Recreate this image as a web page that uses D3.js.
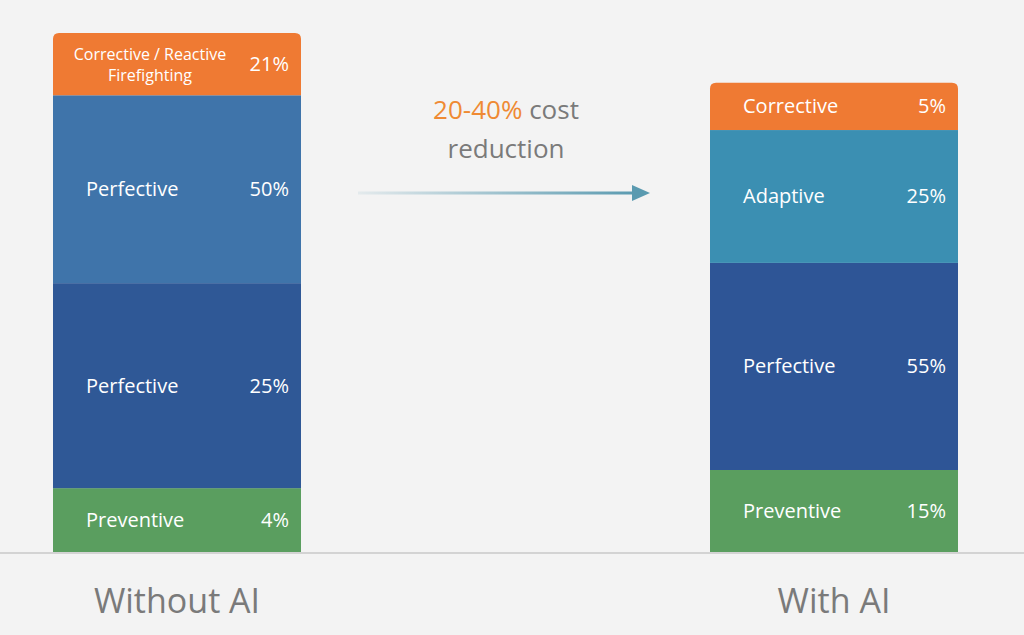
<!DOCTYPE html>
<html><head><meta charset="utf-8">
<script src="https://cdn.jsdelivr.net/npm/d3@7"></script>
<style>body{margin:0;background:#f3f3f3;}svg{display:block;font-family:"Open Sans",sans-serif;}</style>
</head><body><svg id="c" width="1024" height="635"></svg>
<script>
const groups = ["Without AI", "With AI"];
const leftNames = ["Preventive", "Perfective", "Perfective", "Corrective / Reactive\nFirefighting"];
const leftPct = ["4%", "25%", "50%", "21%"];
const leftSize = [12.3, 39.5, 36.2, 12];      // visual segment sizes
const leftColors = ["#5a9e5f", "#2f5896", "#3f74aa", "#ef7a33"];
const rightNames = ["Preventive", "Perfective", "Adaptive", "Corrective"];
const rightPct = ["15%", "55%", "25%", "5%"];
const rightSize = [15.8, 39.9, 25.6, 9.1];
const rightColors = ["#5a9e5f", "#2e5596", "#3b8fb2", "#ef7a33"];

const svg = d3.select("#c");
const defs = svg.append("defs");
const g = defs.append("linearGradient").attr("id","arr");
g.append("stop").attr("offset","0").attr("stop-color","#5a9ab0").attr("stop-opacity",0.1);
g.append("stop").attr("offset","1").attr("stop-color","#5a9ab0");

const base = 552;
const y = d3.scaleLinear().domain([0,100]).range([base, base-519]);
const x = d3.scalePoint().domain(groups).range([177, 834]);
const bw = 248;

svg.append("line").attr("x1",0).attr("x2",1024).attr("y1",base+1).attr("y2",base+1).attr("stroke","#c9c9c9").attr("stroke-width",1.5);

function drawBar(grp, names, pct, size, colors){
  const cx = x(grp), x0 = cx - bw/2;
  let acc = 0;
  size.forEach((s,i)=>{
    const y0 = y(acc), y1 = y(acc+s); acc += s;
    const top = i === size.length-1;
    if (top) {
      const r=6;
      svg.append("path").attr("d",`M${x0},${y0}V${y1+r}Q${x0},${y1} ${x0+r},${y1}H${x0+bw-r}Q${x0+bw},${y1} ${x0+bw},${y1+r}V${y0}Z`).attr("fill",colors[i]);
    } else {
      svg.append("rect").attr("x",x0).attr("y",y1).attr("width",bw).attr("height",y0-y1).attr("fill",colors[i]);
    }
    const cy = (y0+y1)/2;
    const lines = names[i].split("\n");
    if (lines.length>1){
      const t = svg.append("text").attr("x",x0+97).attr("text-anchor","middle").attr("fill","#fff").attr("font-size",16);
      lines.forEach((l,k)=>t.append("tspan").attr("x",x0+97).attr("y",cy-4+k*21).text(l));
    } else {
      svg.append("text").attr("x",x0+33).attr("y",cy+7).attr("fill","#fff").attr("font-size",20).text(names[i]);
    }
    svg.append("text").attr("x",x0+bw-12).attr("y",cy+7).attr("text-anchor","end").attr("fill","#fff").attr("font-size",20).text(pct[i]);
  });
  svg.append("text").attr("x",cx).attr("y",613).attr("text-anchor","middle").attr("fill","#7a7a7a").attr("font-size",34).text(grp);
}
drawBar(groups[0], leftNames, leftPct, leftSize, leftColors);
drawBar(groups[1], rightNames, rightPct, rightSize, rightColors);

svg.append("rect").attr("x",358).attr("y",191.5).attr("width",278).attr("height",3).attr("fill","url(#arr)");
svg.append("path").attr("d","M632,185L650,193L632,201Z").attr("fill","#5a9ab0");
const t1 = svg.append("text").attr("x",506).attr("y",119).attr("text-anchor","middle").attr("font-size",26);
t1.append("tspan").attr("fill","#ef8a33").text("20-40%");
t1.append("tspan").attr("fill","#7a7a7a").text(" cost");
svg.append("text").attr("x",506).attr("y",158).attr("text-anchor","middle").attr("font-size",26).attr("fill","#7a7a7a").text("reduction");
</script></body></html>
